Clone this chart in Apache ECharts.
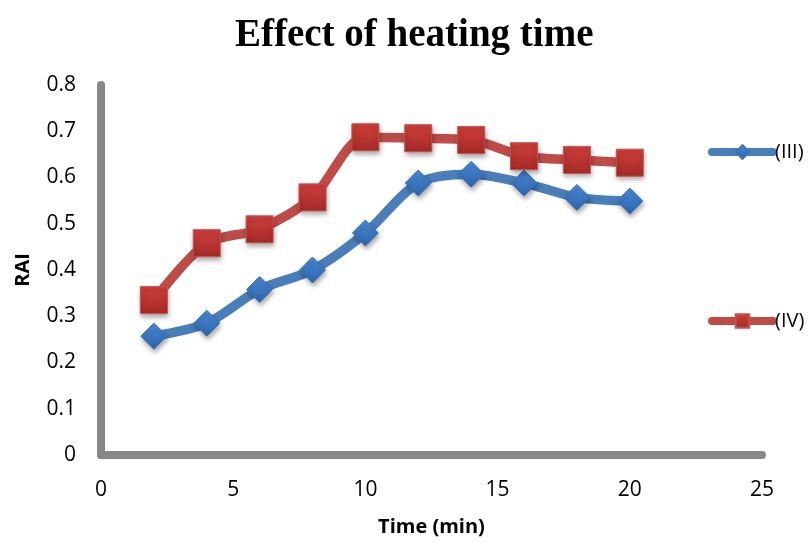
<!DOCTYPE html>
<html>
<head>
<meta charset="utf-8">
<script src="https://cdn.jsdelivr.net/npm/echarts@6/dist/echarts.min.js"></script>
<style>
  html, body { margin: 0; padding: 0; background: #fff; }
  #chart { width: 808px; height: 542px; }
</style>
</head>
<body>
<div id="chart"></div>
<script>
// Heating time in minutes
const timeMin = [2, 4, 6, 8, 10, 12, 14, 16, 18, 20];
// RAI for sample (III)
const raiIII = [0.257, 0.285, 0.358, 0.400, 0.480, 0.588, 0.607, 0.588, 0.557, 0.549];
// RAI for sample (IV)
const raiIV = [0.335, 0.458, 0.488, 0.557, 0.687, 0.685, 0.681, 0.646, 0.638, 0.632];

const seriesNames = ['(III)', '(IV)'];

const chart = echarts.init(document.getElementById('chart'), null, { renderer: 'canvas' });

const pairs = (xs, ys) => xs.map((x, i) => [x, ys[i]]);

const markerShadow = {
  shadowBlur: 5,
  shadowOffsetX: 1,
  shadowOffsetY: 3,
  shadowColor: 'rgba(0,0,0,0.35)'
};

const legendBase = {
  orient: 'vertical',
  left: 708,
  itemWidth: 61,
  itemHeight: 17,
  padding: 0,
  lineStyle: { width: 8, cap: 'round' },
  textStyle: { fontFamily: 'Open Sans', fontSize: 20, color: '#000', padding: [0, 0, 0, -3] }
};

chart.setOption({
  animation: false,
  backgroundColor: '#ffffff',
  title: {
    text: 'Effect of heating time',
    left: 230,
    top: 11,
    textStyle: {
      fontFamily: 'Liberation Serif',
      fontWeight: 'bold',
      fontSize: 39,
      color: '#000'
    }
  },
  legend: [
    Object.assign({ top: 142, data: [seriesNames[0]] }, legendBase),
    Object.assign({ top: 311, data: [seriesNames[1]] }, legendBase)
  ],
  grid: {
    left: 101,
    right: 46,
    top: 85,
    bottom: 87,
    containLabel: false,
    outerBoundsMode: 'none'
  },
  xAxis: {
    type: 'value',
    min: 0,
    max: 25,
    interval: 5,
    name: 'Time (min)',
    nameLocation: 'middle',
    nameGap: 62,
    nameTextStyle: { fontFamily: 'Open Sans', fontWeight: 'bold', fontSize: 20, color: '#000' },
    axisLine: { show: true, lineStyle: { color: '#878787', width: 8 } },
    axisTick: { show: false },
    splitLine: { show: false },
    axisLabel: { fontFamily: 'Open Sans', fontSize: 21, color: '#000', margin: 25 }
  },
  yAxis: {
    type: 'value',
    min: 0,
    max: 0.8,
    interval: 0.1,
    name: 'RAI',
    nameLocation: 'middle',
    nameGap: 68,
    nameRotate: 90,
    nameTextStyle: { fontFamily: 'Open Sans', fontWeight: 'bold', fontSize: 20, color: '#000' },
    axisLine: { show: true, lineStyle: { color: '#878787', width: 8 } },
    axisTick: { show: false },
    splitLine: { show: false },
    axisLabel: {
      fontFamily: 'Open Sans', fontSize: 21, color: '#000', margin: 25,
      padding: [4, 0, 0, 0],
      formatter: v => (Math.round(v * 10) / 10).toString()
    }
  },
  series: [
    {
      name: seriesNames[0],
      type: 'line',
      smooth: 0.3,
      data: pairs(timeMin, raiIII),
      symbol: 'diamond',
      symbolSize: 26,
      lineStyle: { color: '#4a7ebb', width: 9.5 },
      itemStyle: Object.assign({
        color: new echarts.graphic.LinearGradient(0, 0, 0, 1, [
          { offset: 0, color: '#4a8ad6' },
          { offset: 1, color: '#2c64aa' }
        ]),
        borderColor: '#3a73bb',
        borderWidth: 1
      }, markerShadow),
      z: 2
    },
    {
      name: seriesNames[1],
      type: 'line',
      smooth: 0.3,
      data: pairs(timeMin, raiIV),
      symbol: 'rect',
      symbolSize: 27,
      lineStyle: { color: '#be4b48', width: 9.5 },
      itemStyle: Object.assign({
        color: new echarts.graphic.LinearGradient(0, 0, 0, 1, [
          { offset: 0, color: '#d23f3b' },
          { offset: 1, color: '#a32a27' }
        ]),
        borderColor: '#c25450',
        borderWidth: 1
      }, markerShadow),
      z: 3
    }
  ]
});
</script>
</body>
</html>
